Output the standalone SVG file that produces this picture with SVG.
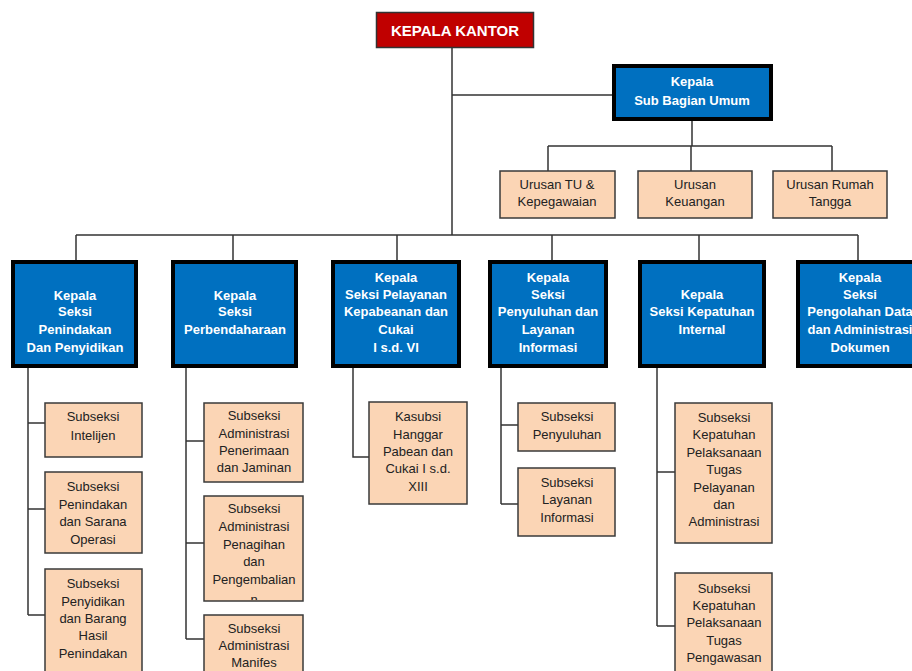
<svg xmlns="http://www.w3.org/2000/svg" width="912" height="671" viewBox="0 0 912 671">
<style>
.ln{stroke:#333;stroke-width:1.5;fill:none}
.pe{fill:#FBD5B5;stroke:#3a3a3a;stroke-width:1.5}
.bl{fill:#0070C0;stroke:#000;stroke-width:4}
.pt{font-family:"Liberation Sans",Arial,sans-serif;font-size:13px;fill:#222;text-anchor:middle}
.bt{font-family:"Liberation Sans",Arial,sans-serif;font-size:13px;font-weight:bold;fill:#fff;text-anchor:middle}
</style>
<defs>
<clipPath id="cp1"><rect x="204" y="496" width="99" height="104"/></clipPath>
</defs>
<rect width="912" height="671" fill="#fff"/>
<g id="connectors">
<path class="ln" d="M452 48V235M452 95H612M692 121V146M548 146H832M548 146V171M691 146V171M832 146V171"/>
<path class="ln" d="M76 235H858M76 235V260M233 235V260M397 235V260M552 235V260M699 235V260M858 235V260"/>
<path class="ln" d="M28 368V615M28 423H45M28 509H45M28 615H45"/>
<path class="ln" d="M186 368V639M186 441H204M186 543H204M186 639H204"/>
<path class="ln" d="M353 368V457H369"/>
<path class="ln" d="M501 368V504M501 425H518M501 504H518"/>
<path class="ln" d="M657 368V626M657 472H675M657 626H675"/>
</g>
<g id="kepala-kantor">
<rect x="376.5" y="12.5" width="157" height="35" fill="#C00000" stroke="#333" stroke-width="1.5"/>
<text x="455" y="36" style="font-family:'Liberation Sans',Arial,sans-serif;font-size:15px;font-weight:bold;fill:#fff;text-anchor:middle">KEPALA KANTOR</text>
</g>
<g id="sub-bagian-umum">
<rect class="bl" x="614" y="66" width="157" height="53"/>
<text class="bt" x="692" y="86">Kepala</text>
<text class="bt" x="692" y="105">Sub Bagian Umum</text>
</g>
<g id="urusan-tu">
<rect class="pe" x="500" y="171" width="115" height="47"/>
<text class="pt" x="557" y="189">Urusan TU &amp;</text>
<text class="pt" x="557" y="206">Kepegawaian</text>
</g>
<g id="urusan-keuangan">
<rect class="pe" x="638" y="171" width="114" height="47"/>
<text class="pt" x="695" y="189">Urusan</text>
<text class="pt" x="695" y="206">Keuangan</text>
</g>
<g id="urusan-rumah-tangga">
<rect class="pe" x="773" y="171" width="114" height="47"/>
<text class="pt" x="830" y="189">Urusan Rumah</text>
<text class="pt" x="830" y="206">Tangga</text>
</g>
<g id="seksi-penindakan">
<rect class="bl" x="13" y="262" width="123" height="104"/>
<text class="bt" x="75" y="300">Kepala</text>
<text class="bt" x="75" y="316">Seksi</text>
<text class="bt" x="75" y="334">Penindakan</text>
<text class="bt" x="75" y="352">Dan Penyidikan</text>
</g>
<g id="seksi-perbendaharaan">
<rect class="bl" x="173" y="262" width="123" height="104"/>
<text class="bt" x="235" y="300">Kepala</text>
<text class="bt" x="235" y="316">Seksi</text>
<text class="bt" x="235" y="334">Perbendaharaan</text>
</g>
<g id="seksi-pelayanan">
<rect class="bl" x="333" y="262" width="126" height="104"/>
<text class="bt" x="396" y="282">Kepala</text>
<text class="bt" x="396" y="299">Seksi Pelayanan</text>
<text class="bt" x="396" y="316">Kepabeanan dan</text>
<text class="bt" x="396" y="334">Cukai</text>
<text class="bt" x="396" y="352">I s.d. VI</text>
</g>
<g id="seksi-penyuluhan">
<rect class="bl" x="490" y="262" width="116" height="104"/>
<text class="bt" x="548" y="282">Kepala</text>
<text class="bt" x="548" y="299">Seksi</text>
<text class="bt" x="548" y="316">Penyuluhan dan</text>
<text class="bt" x="548" y="334">Layanan</text>
<text class="bt" x="548" y="352">Informasi</text>
</g>
<g id="seksi-kepatuhan">
<rect class="bl" x="640" y="262" width="124" height="104"/>
<text class="bt" x="702" y="299">Kepala</text>
<text class="bt" x="702" y="316">Seksi Kepatuhan</text>
<text class="bt" x="702" y="334">Internal</text>
</g>
<g id="seksi-pengolahan-data">
<rect class="bl" x="798" y="262" width="124" height="104"/>
<text class="bt" x="860" y="282">Kepala</text>
<text class="bt" x="860" y="299">Seksi</text>
<text class="bt" x="860" y="316">Pengolahan Data</text>
<text class="bt" x="860" y="334">dan Administrasi</text>
<text class="bt" x="860" y="352">Dokumen</text>
</g>
<g id="subseksi-intelijen">
<rect class="pe" x="45" y="403" width="97" height="54"/>
<text class="pt" x="93" y="421">Subseksi</text>
<text class="pt" x="93" y="440">Intelijen</text>
</g>
<g id="subseksi-penindakan">
<rect class="pe" x="45" y="472" width="97" height="81"/>
<text class="pt" x="93" y="491">Subseksi</text>
<text class="pt" x="93" y="509">Penindakan</text>
<text class="pt" x="93" y="526">dan Sarana</text>
<text class="pt" x="93" y="544">Operasi</text>
</g>
<g id="subseksi-penyidikan">
<rect class="pe" x="45" y="569" width="97" height="110"/>
<text class="pt" x="93" y="588">Subseksi</text>
<text class="pt" x="93" y="606">Penyidikan</text>
<text class="pt" x="93" y="623">dan Barang</text>
<text class="pt" x="93" y="640">Hasil</text>
<text class="pt" x="93" y="658">Penindakan</text>
</g>
<g id="subseksi-penerimaan">
<rect class="pe" x="204" y="403" width="99" height="79"/>
<text class="pt" x="254" y="420">Subseksi</text>
<text class="pt" x="254" y="438">Administrasi</text>
<text class="pt" x="254" y="455">Penerimaan</text>
<text class="pt" x="254" y="472">dan Jaminan</text>
</g>
<g id="subseksi-penagihan">
<rect class="pe" x="204" y="496" width="99" height="105"/>
<g clip-path="url(#cp1)">
<text class="pt" x="254" y="513">Subseksi</text>
<text class="pt" x="254" y="531">Administrasi</text>
<text class="pt" x="254" y="549">Penagihan</text>
<text class="pt" x="254" y="566">dan</text>
<text class="pt" x="254" y="584">Pengembalian</text>
<text class="pt" x="254" y="604">n</text>
</g>
</g>
<g id="subseksi-manifes">
<rect class="pe" x="204" y="615" width="99" height="70"/>
<text class="pt" x="254" y="633">Subseksi</text>
<text class="pt" x="254" y="650">Administrasi</text>
<text class="pt" x="254" y="667">Manifes</text>
</g>
<g id="kasubsi-hanggar">
<rect class="pe" x="369" y="402" width="98" height="102"/>
<text class="pt" x="418" y="421">Kasubsi</text>
<text class="pt" x="418" y="439">Hanggar</text>
<text class="pt" x="418" y="456">Pabean dan</text>
<text class="pt" x="418" y="473">Cukai I s.d.</text>
<text class="pt" x="418" y="491">XIII</text>
</g>
<g id="subseksi-penyuluhan">
<rect class="pe" x="518" y="403" width="97" height="48"/>
<text class="pt" x="567" y="421">Subseksi</text>
<text class="pt" x="567" y="439">Penyuluhan</text>
</g>
<g id="subseksi-layanan-informasi">
<rect class="pe" x="518" y="468" width="97" height="68"/>
<text class="pt" x="567" y="487">Subseksi</text>
<text class="pt" x="567" y="504">Layanan</text>
<text class="pt" x="567" y="522">Informasi</text>
</g>
<g id="subseksi-kepatuhan-pelayanan">
<rect class="pe" x="675" y="403" width="97" height="140"/>
<text class="pt" x="724" y="422">Subseksi</text>
<text class="pt" x="724" y="439">Kepatuhan</text>
<text class="pt" x="724" y="457">Pelaksanaan</text>
<text class="pt" x="724" y="474">Tugas</text>
<text class="pt" x="724" y="492">Pelayanan</text>
<text class="pt" x="724" y="509">dan</text>
<text class="pt" x="724" y="526">Administrasi</text>
</g>
<g id="subseksi-kepatuhan-pengawasan">
<rect class="pe" x="675" y="573" width="97" height="110"/>
<text class="pt" x="724" y="593">Subseksi</text>
<text class="pt" x="724" y="610">Kepatuhan</text>
<text class="pt" x="724" y="627">Pelaksanaan</text>
<text class="pt" x="724" y="645">Tugas</text>
<text class="pt" x="724" y="662">Pengawasan</text>
</g>
</svg>
